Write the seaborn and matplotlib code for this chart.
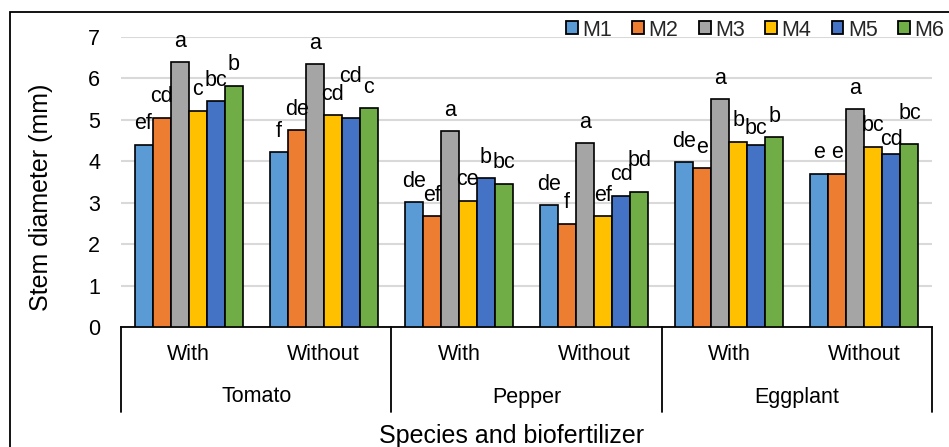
import matplotlib
matplotlib.use("Agg")
import matplotlib.pyplot as plt
import matplotlib.transforms as mtransforms
from matplotlib.patches import Rectangle
from matplotlib.lines import Line2D
import seaborn as sns
import pandas as pd

species = ["Tomato", "Pepper", "Eggplant"]
biofert = ["With", "Without"]
treatments = ["M1", "M2", "M3", "M4", "M5", "M6"]

# values per group (species x biofertilizer), order M1..M6
tomato_with = [4.39, 5.04, 6.38, 5.22, 5.44, 5.82]
tomato_without = [4.21, 4.75, 6.33, 5.10, 5.04, 5.28]
pepper_with = [3.01, 2.67, 4.72, 3.05, 3.59, 3.46]
pepper_without = [2.93, 2.49, 4.43, 2.67, 3.17, 3.25]
eggplant_with = [3.97, 3.83, 5.49, 4.47, 4.39, 4.57]
eggplant_without = [3.70, 3.70, 5.25, 4.35, 4.18, 4.41]

letters_tomato_with = ["ef", "cd", "a", "c", "bc", "b"]
letters_tomato_without = ["f", "de", "a", "cd", "cd", "c"]
letters_pepper_with = ["de", "ef", "a", "ce", "b", "bc"]
letters_pepper_without = ["de", "f", "a", "ef", "cd", "bd"]
letters_eggplant_with = ["de", "e", "a", "b", "bc", "b"]
letters_eggplant_without = ["e", "e", "a", "bc", "cd", "bc"]

colors = ["#5B9BD5", "#ED7D31", "#A5A5A5", "#FFC000", "#4472C4", "#70AD47"]

groups = [("Tomato", "With", tomato_with, letters_tomato_with),
          ("Tomato", "Without", tomato_without, letters_tomato_without),
          ("Pepper", "With", pepper_with, letters_pepper_with),
          ("Pepper", "Without", pepper_without, letters_pepper_without),
          ("Eggplant", "With", eggplant_with, letters_eggplant_with),
          ("Eggplant", "Without", eggplant_without, letters_eggplant_without)]

rows = []
for sp, bf, vals, lets in groups:
    for t, v, l in zip(treatments, vals, lets):
        rows.append({"group": f"{sp}|{bf}", "treatment": t, "value": v, "letter": l})
df = pd.DataFrame(rows)
group_order = [f"{sp}|{bf}" for sp, bf, _, _ in groups]

# manual label nudges (pixels, vertical), as placed in the original chart
label_nudge = {("Tomato|Without", "M5"): 20,
               ("Pepper|Without", "M6"): 11,
               ("Eggplant|With", "M5"): -5,
               ("Eggplant|Without", "M5"): -6.5,
               ("Eggplant|Without", "M6"): 9.5}

sns.set_theme(style="white")
plt.rcParams["font.family"] = ["Liberation Sans", "DejaVu Sans"]

W, H = 949, 447
fig = plt.figure(figsize=(W / 100, H / 100), dpi=100)

def fx(px):
    return px / W

def fy(py):
    return 1 - py / H

PX2PT = 72 / 100
FS = 15.5
ax_left, ax_right, ax_top, ax_bottom = 121, 932, 36.7, 327
ax = fig.add_axes([fx(ax_left), fy(ax_bottom), fx(ax_right) - fx(ax_left), fy(ax_top) - fy(ax_bottom)])

sns.barplot(data=df, x="group", y="value", hue="treatment", order=group_order,
            hue_order=treatments, palette=colors, saturation=1, edgecolor="black",
            linewidth=1.2, width=0.8, ax=ax, legend=True, zorder=3)

ax.set_ylim(0, 7)
ax.set_xlim(-0.5, len(group_order) - 0.5)
ax.set_yticks(range(0, 8))
ax.yaxis.grid(True, color="#d9d9d9", linewidth=1.5, zorder=0)
ax.set_axisbelow(True)
for s in ["top", "right", "left"]:
    ax.spines[s].set_visible(False)
ax.spines["bottom"].set_color("black")
ax.spines["bottom"].set_linewidth(1.3)
ax.tick_params(axis="y", length=0, pad=15, labelsize=FS, colors="black")
ax.set_xticks([])
ax.set_xlabel("")
ax.set_ylabel("")

# letters above bars
for cont, t in zip(ax.containers, treatments):
    labs = df[df["treatment"] == t].set_index("group").loc[group_order, "letter"].tolist()
    for bar, lab, g in zip(cont, labs, group_order):
        dy = 15.5 + label_nudge.get((g, t), 0)
        ax.annotate(lab, (bar.get_x() + bar.get_width() / 2, bar.get_height()),
                    xytext=(0, dy * PX2PT), textcoords="offset points", ha="center", va="baseline",
                    fontsize=FS, color="black", annotation_clip=False)

# hierarchical x axis
blend = mtransforms.blended_transform_factory(ax.transData, fig.transFigure)
for i, (sp, bf, _, _) in enumerate(groups):
    ax.text(i, fy(355), bf, transform=blend, ha="center", va="center", fontsize=FS, color="black")
for j, sp in enumerate(species):
    ax.text(2 * j + 0.5, fy(397), sp, transform=blend, ha="center", va="center", fontsize=FS, color="black")
for xb in [-0.5, 1.5, 3.5, 5.5]:
    ax.add_line(Line2D([xb, xb], [fy(327), fy(412)], transform=blend, color="black",
                       linewidth=1.3, clip_on=False))

fig.text(fx(512), fy(436), "Species and biofertilizer", ha="center", va="center", fontsize=18, color="black")
fig.text(fx(41), fy(197), "Stem diameter (mm)", ha="center", va="center", rotation=90,
         fontsize=18, color="black")

# legend
handles, labels = ax.get_legend_handles_labels()
ax.get_legend().remove()
leg = fig.legend(handles, labels, loc="center left", bbox_to_anchor=(fx(566), fy(30)),
                 ncol=6, frameon=False, fontsize=FS, handlelength=0.55, handleheight=0.55,
                 handletextpad=0.2, columnspacing=0.95, borderpad=0, borderaxespad=0)
for h in leg.legend_handles:
    h.set_edgecolor("black")
    h.set_linewidth(1.3)

# outer chart border
fig.add_artist(Rectangle((fx(10), -0.05), 1.2, fy(12) + 0.05, transform=fig.transFigure,
                         fill=False, edgecolor="black", linewidth=1.3, clip_on=False))

fig.savefig("out.png", dpi=100)
